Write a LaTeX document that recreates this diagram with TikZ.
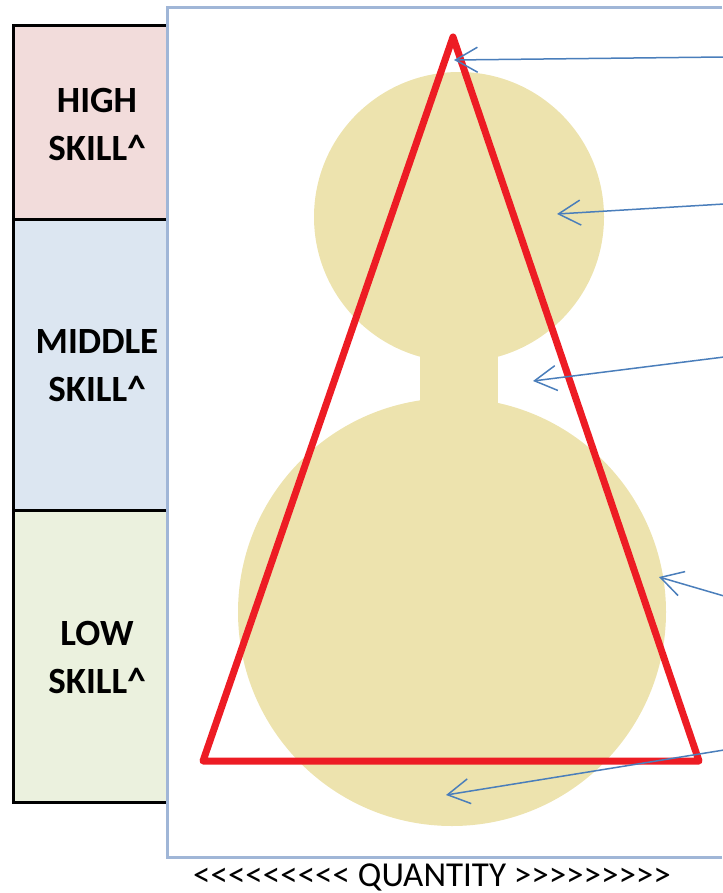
\documentclass[tikz,border=0pt]{standalone}
\usepackage{fontspec}
\setmainfont{Carlito}
\usetikzlibrary{arrows.meta}

\definecolor{highfill}{RGB}{242,220,219}
\definecolor{midfill}{RGB}{220,230,241}
\definecolor{lowfill}{RGB}{235,241,222}
\definecolor{bodyfill}{RGB}{237,227,174}
\definecolor{trired}{RGB}{237,28,36}
\definecolor{arrowblue}{RGB}{74,126,187}
\definecolor{framecol}{RGB}{160,182,215}

% single angle brackets, kept apart so they never merge into guillemets
\newcommand{\lchev}{<\kern0pt}
\newcommand{\rchev}{>\kern0pt}

\tikzset{
  rule/.style={black, line width=3pt},
  bandlabel/.style={font=\bfseries\fontsize{37}{48}\selectfont, align=center, text=black},
  pointer/.style={draw=arrowblue, line width=1.5pt, -{Straight Barb[length=22pt,width=25pt,line width=1.5pt]}},
  pyramid/.style={draw=trired, line width=7pt, line join=round, line cap=round},
}

\begin{document}
\begin{tikzpicture}[x=1pt, y=-1pt]
\useasboundingbox (0,0) rectangle (722,893);

% skill bands
\fill[highfill] (13,26) rectangle (166,220);
\fill[midfill]  (13,220) rectangle (166,510);
\fill[lowfill]  (13,510) rectangle (166,802);
\draw[rule] (12,26) -- (166,26);
\draw[rule] (12,220) -- (166,220);
\draw[rule] (12,510) -- (166,510);
\draw[rule] (12,802) -- (166,802);
\draw[black, line width=3.5pt] (13.5,24.5) -- (13.5,803.5);

\node[bandlabel] (high) at (97,124) {HIGH\\SKILL\^{}};
\node[bandlabel] (mid)  at (97,366) {MIDDLE\\SKILL\^{}};
\node[bandlabel] (low)  at (97,657) {LOW\\SKILL\^{}};

% chart frame (open on the right)
\draw[framecol, line width=3pt] (722,8) -- (167,8) -- (167,857) -- (722,857);

% shape of the workforce: head, neck and body
\fill[bodyfill] (459,217) circle (145);
\fill[bodyfill] (420,340) rectangle (498,415);
\fill[bodyfill] (452,612) circle (214);

% skill pyramid
\coordinate (apex) at (453,37);
\coordinate (bl) at (203,761);
\coordinate (br) at (699,761);
\draw[pyramid] (apex) -- (br) -- (bl) -- cycle;

% pointers coming in from the right
\coordinate (s1) at (724,57);
\coordinate (s2) at (724,204);
\coordinate (s3) at (724,357);
\coordinate (s4) at (724,596);
\coordinate (s5) at (724,750);
\coordinate (t1) at (454,60);
\coordinate (t2) at (557,214);
\coordinate (t3) at (533,381);
\coordinate (t4) at (659,577);
\coordinate (t5) at (446,795);
\draw[pointer] (s1) -- (t1);
\draw[pointer] (s2) -- (t2);
\draw[pointer] (s3) -- (t3);
\draw[pointer] (s4) -- (t4);
\draw[pointer] (s5) -- (t5);

% axis caption
\node[font=\fontsize{35}{40}\selectfont, anchor=base] (qty) at (432,886)
  {\lchev\lchev\lchev\lchev\lchev\lchev\lchev\lchev\lchev{} QUANTITY \rchev\rchev\rchev\rchev\rchev\rchev\rchev\rchev\rchev};
\end{tikzpicture}
\end{document}
